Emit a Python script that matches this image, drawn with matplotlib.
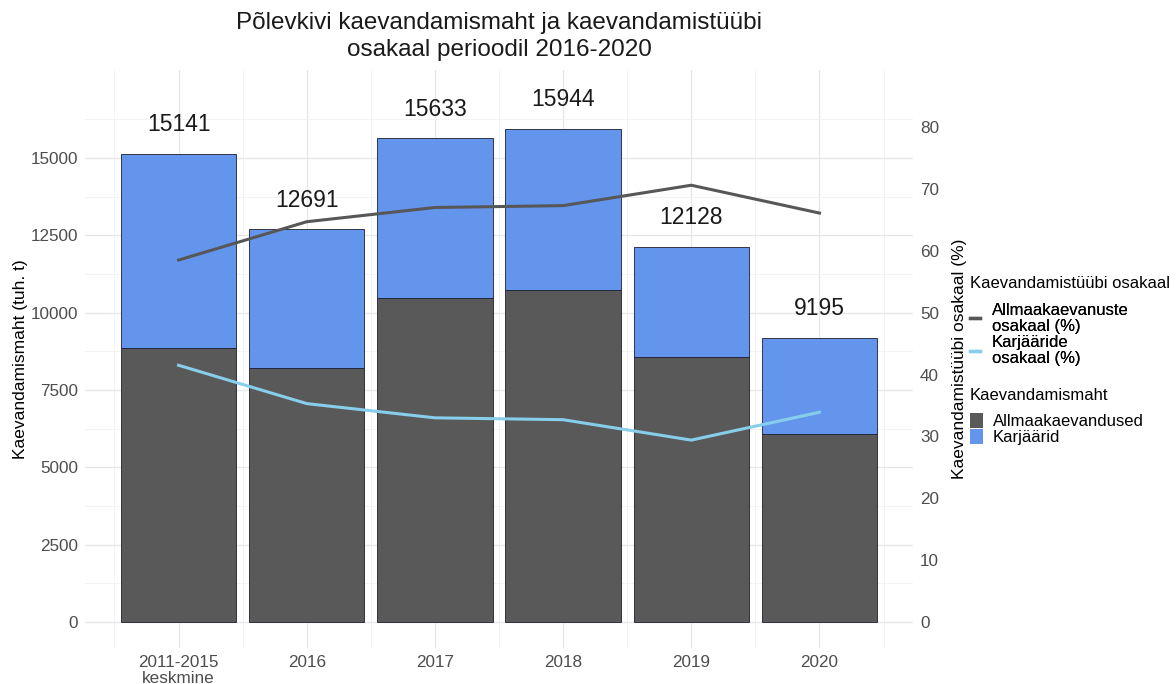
import matplotlib
matplotlib.use("Agg")
import matplotlib.pyplot as plt
from matplotlib.lines import Line2D
from matplotlib.patches import Patch
import numpy as np

plt.rcParams['font.family'] = ['Liberation Sans', 'DejaVu Sans']

categories = ["2011-2015\nkeskmine", "2016", "2017", "2018", "2019", "2020"]
allmaa = [8858, 8211, 10474, 10733, 8567, 6078]          # tuh. t
karjaar = [6283, 4480, 5159, 5211, 3561, 3117]           # tuh. t
totals = [15141, 12691, 15633, 15944, 12128, 9195]
allmaa_pct = [58.5, 64.7, 67.0, 67.3, 70.6, 66.1]
karjaar_pct = [41.5, 35.3, 33.0, 32.7, 29.4, 33.9]

c_dark = "#595959"
c_blue = "#6495ED"
c_line_dark = "#575757"
c_line_light = "#87CEEB"
tick_col = "#4D4D4D"

fig = plt.figure(figsize=(11.76, 6.84), dpi=100)
L, R, B, T = 85/1176, 913/1176, 1-648/684, 1-70/684
ax = fig.add_axes([L, B, R-L, T-B])
x = np.arange(len(categories))

ax.bar(x, allmaa, width=0.9, color=c_dark, edgecolor="#1e1e2e", linewidth=0.6, zorder=2)
ax.bar(x, karjaar, bottom=allmaa, width=0.9, color=c_blue, edgecolor="#1e1e2e", linewidth=0.6, zorder=2)
for xi, t in zip(x, totals):
    ax.text(xi, t + 950, str(t), ha="center", va="center", fontsize=16.5, color="#1a1a1a", zorder=4)

ax.set_xlim(-0.73, 5.73)
ax.set_ylim(-841, 17845)
ax.set_yticks([0, 2500, 5000, 7500, 10000, 12500, 15000])
ax.set_yticks(np.arange(1250, 17500, 2500), minor=True)
ax.set_xticks(x)
ax.set_xticklabels(categories, linespacing=1.05)
ax.set_xticks(np.arange(-0.5, 6, 1), minor=True)
ax.tick_params(axis="both", which="both", length=0, colors=tick_col, labelsize=12.3)
ax.tick_params(axis="y", pad=5)
ax.tick_params(axis="x", pad=5)
ax.grid(True, which="major", color="#e6e6e6", linewidth=0.9)
ax.grid(True, which="minor", color="#f1f1f1", linewidth=0.6)
ax.set_axisbelow(True)
for s in ax.spines.values():
    s.set_visible(False)
ax.set_ylabel("Kaevandamismaht (tuh. t)", fontsize=12.5, color="black", labelpad=2)

ax2 = ax.twinx()
ax2.set_ylim(-841/200, 17845/200)
ax2.plot(x, allmaa_pct, color=c_line_dark, linewidth=2.2, zorder=3)
ax2.plot(x, karjaar_pct, color=c_line_light, linewidth=2.2, zorder=3)
ax2.set_yticks(np.arange(0, 81, 10))
ax2.tick_params(axis="y", length=0, colors=tick_col, labelsize=12.3, pad=5)
for s in ax2.spines.values():
    s.set_visible(False)
ax2.set_ylabel("Kaevandamistüübi osakaal (%)", fontsize=12.5, color="black", labelpad=9)

fig.suptitle("Põlevkivi kaevandamismaht ja kaevandamistüübi\nosakaal perioodil 2016-2020",
             x=(L+R)/2, y=1-12/684, fontsize=17.5, color="#1a1a1a", linespacing=1.32, va="top")

# legends
lx = 970/1176
fig.text(lx, 1-283/684, "Kaevandamistüübi osakaal", fontsize=12, va="center", ha="left")
h1 = [Line2D([0], [0], color=c_line_dark, lw=2.4),
      Line2D([0], [0], color=c_line_light, lw=2.4)]
leg1 = fig.legend(h1, ["Allmaakaevanuste\nosakaal (%)", "Karjääride\nosakaal (%)"],
                  loc="upper left", bbox_to_anchor=(lx, 1-303/684), frameon=False, fontsize=12,
                  handlelength=0.6, handletextpad=0.7, labelspacing=0.1,
                  borderaxespad=0, borderpad=0)
for t in leg1.get_texts():
    t.set_linespacing(1.05)
fig.text(lx, 1-396/684, "Kaevandamismaht", fontsize=12, va="center", ha="left")
h2 = [Patch(facecolor=c_dark, edgecolor="none"), Patch(facecolor=c_blue, edgecolor="none")]
leg2 = fig.legend(h2, ["Allmaakaevandused", "Karjäärid"],
                  loc="upper left", bbox_to_anchor=(lx, 1-413/684), frameon=False,
                  fontsize=12, handlelength=0.75, handleheight=1.0,
                  handletextpad=0.6, labelspacing=0.0, borderaxespad=0, borderpad=0)
fig.add_artist(leg1)

fig.savefig("out.png", dpi=100, facecolor="white")
